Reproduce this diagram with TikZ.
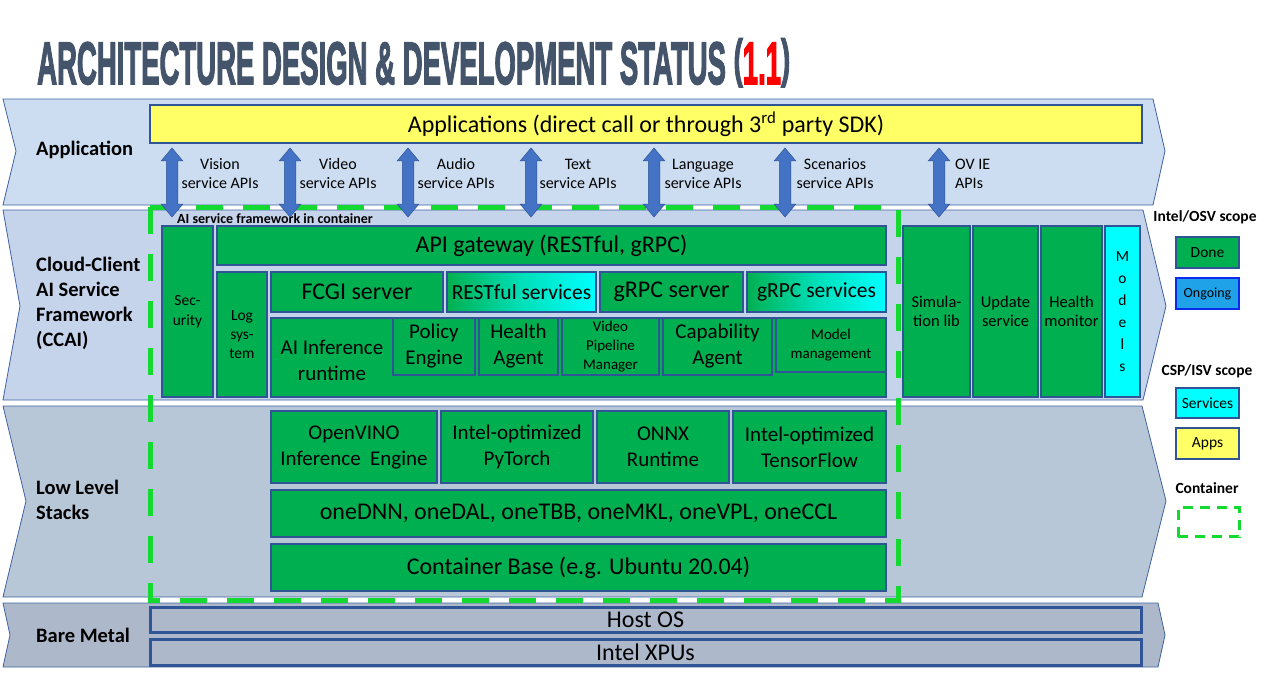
\documentclass[tikz,border=0pt]{standalone}
\usepackage{fontspec}
\setmainfont{Carlito}
\newfontfamily\titlefont{Liberation Sans}[BoldFeatures={FakeBold=3}]
\usetikzlibrary{shapes.arrows}
\definecolor{gr}{HTML}{00B050}
\definecolor{bl}{HTML}{2F5597}
\definecolor{cy}{HTML}{00FFFF}
\definecolor{yl}{HTML}{FFFF66}
\definecolor{bandA}{HTML}{CCDDF1}
\definecolor{bandB}{HTML}{C5D3EB}
\definecolor{bandC}{HTML}{B8C7D7}
\definecolor{bandD}{HTML}{ADB9CA}
\definecolor{bandline}{HTML}{3F62A0}
\definecolor{arr}{HTML}{4472C4}
\definecolor{cont}{HTML}{14D931}
\definecolor{ttl}{HTML}{44546A}
\definecolor{ongo}{HTML}{1FA2E8}
\definecolor{ongob}{HTML}{0A2AF0}
\newcommand\fs[2]{\fontsize{#1}{#2}\selectfont}
\newcommand\tparen[1]{\raisebox{0.13em}{\scalebox{1}[0.87]{#1}}}
\newcommand\bx[7]{\node[#6, minimum width={(#4)-(#2)}, minimum height={(#5)-(#3)}] (#1) at ({((#2)+(#4))/2},{((#3)+(#5))/2}) {#7};}
\begin{document}
\begin{tikzpicture}[x=1pt,y=-1pt,
  band/.style={draw=bandline, line width=0.8},
  box/.style={draw=bl, line width=2.4, inner sep=0, align=center, text=black},
  gbox/.style={box, fill=gr},
  cbox/.style={box, fill=cy},
  ybox/.style={box, fill=yl},
  grad/.style={box, left color=gr, right color=cy, middle color=gr!40!cy},
  mbox/.style={box, fill=bandD, line width=3},
  obox/.style={box, fill=ongo, draw=ongob, line width=2.4},
  big/.style={font=\fs{24}{28}},
  mid/.style={font=\fs{21}{26}},
  sml/.style={font=\fs{15}{19}},
  lay/.style={anchor=west, align=left, inner sep=0, font=\fs{20.5}{25}\bfseries},
  api/.style={align=center, inner sep=0, font=\fs{16}{19}},
  apiarrow/.style={double arrow, rotate=90, draw=bl, line width=0.5, fill=arr,
    minimum height=69, text height=5.5pt, text depth=5.5pt, text width=0pt,
    double arrow head extend=5, double arrow tip angle=80, inner sep=0},
  contline/.style={draw=cont, line width=5, dash pattern=on 27 off 20},
  legcont/.style={draw=cont, line width=3, dash pattern=on 10 off 7},
  lgd/.style={inner sep=0, font=\fs{15.5}{18}\bfseries}]
\useasboundingbox (0,0) rectangle (1269,680);

% title
\node[anchor=base west, text=ttl, inner sep=0] (title) at (37,84)
  {\resizebox{753pt}{1.5\height}{\titlefont\bfseries\fontsize{40}{40}\selectfont ARCHITECTURE DESIGN \& DEVELOPMENT STATUS \tparen{(}\textcolor{red}{1.1}\tparen{)}}};

% bands
\path[band, fill=bandA] (3,99) -- (1153,99) -- (1165,151) -- (1153,205) -- (3,205) -- (16,151) -- cycle;
\path[band, fill=bandB] (3,210) -- (1143,210) -- (1166,306) -- (1143,400) -- (3,400) -- (20,306) -- cycle;
\path[band, fill=bandC] (3,406) -- (1142,406) -- (1166,501) -- (1142,597) -- (3,597) -- (26,501) -- cycle;
\path[band, fill=bandD] (3,603) -- (1158,603) -- (1165,635) -- (1158,667) -- (3,667) -- (10,635) -- cycle;

% layer labels
\node[lay] (lApp) at (36,150) {Application};
\node[lay] (lCC) at (36,303) {Cloud-Client\\AI Service\\Framework\\(CCAI)};
\node[lay] (lLow) at (36,500) {Low Level\\Stacks};
\node[lay] (lBare) at (36,635) {Bare Metal};

% container
\path[contline] (150,207) rectangle (898,600);

% applications
\bx{apps}{150}{105}{1142}{143}{ybox, big}{Applications (direct call or through 3\textsuperscript{rd} party SDK)}

% cloud client framework boxes
\bx{sec}{162}{226}{213}{397}{gbox, font=\fs{15.5}{20}}{Sec-\\urity}
\bx{gw}{217}{226}{886}{265}{gbox, big}{API gateway (RESTful, gRPC)}
\bx{log}{217}{272}{267}{397}{gbox, font=\fs{15.5}{19}}{Log\\sys-\\tem}
\bx{fcgi}{271}{272}{443}{312}{gbox, big}{FCGI server}
\bx{rest}{447}{272}{596}{312}{grad, font=\fs{21.5}{24}}{RESTful services}
\bx{grpcs}{600}{272}{743}{312}{gbox, big}{gRPC server}
\bx{grpcv}{747}{272}{886}{312}{grad, font=\fs{21.5}{24}}{gRPC services}
\bx{airt}{271}{318}{886}{397}{gbox}{}
\node[inner sep=0, align=center, mid] (airtT) at (332,360) {AI Inference\\runtime};
\bx{pol}{393}{318}{475}{375}{gbox, mid}{Policy\\Engine}
\bx{hag}{479}{318}{558}{375}{gbox, mid}{Health\\Agent}
\bx{vpm}{562}{318}{659}{375}{gbox, sml}{Video\\Pipeline\\Manager}
\bx{cap}{663}{318}{772}{375}{gbox, mid}{Capability\\Agent}
\bx{mm}{776}{318}{886}{372}{gbox, sml}{Model\\management}

\bx{sim}{903}{226}{970}{397}{gbox, font=\fs{16.5}{19}}{Simula-\\tion lib}
\bx{upd}{973}{226}{1038}{397}{gbox, font=\fs{16.5}{19}}{Update\\service}
\bx{hmon}{1041}{226}{1102}{397}{gbox, font=\fs{16.5}{19}}{Health\\monitor}
\bx{mod}{1105}{226}{1140}{397}{cbox, font=\fs{15.5}{22}}{M\\o\\d\\e\\l\\s}

\node[anchor=west, inner sep=0, font=\fs{14}{16}\bfseries] (contlbl) at (177,219) {AI service framework in container};

% low level stacks
\bx{ov}{271}{411}{437}{483}{gbox, mid}{OpenVINO\\Inference\ \ Engine}
\bx{pt}{441}{411}{593}{483}{gbox, mid}{Intel-optimized\\PyTorch}
\bx{onnx}{597}{411}{729}{483}{gbox, mid}{ONNX\\Runtime}
\bx{tf}{733}{411}{886}{483}{gbox, mid}{Intel-optimized\\TensorFlow}
\bx{one}{271}{490}{886}{537}{gbox, big}{oneDNN, oneDAL, oneTBB, oneMKL, oneVPL, oneCCL}
\bx{cb}{271}{544}{886}{591}{gbox, big}{Container Base (e.g. Ubuntu 20.04)}

% bare metal
\bx{host}{150}{607}{1141}{632}{mbox, big}{Host OS}
\bx{xpu}{150}{639}{1141}{665}{mbox, big}{Intel XPUs}

% API arrows
\node[apiarrow] (a1) at (172,182.5) {};
\node[apiarrow] (a2) at (290,182.5) {};
\node[apiarrow] (a3) at (408,182.5) {};
\node[apiarrow] (a4) at (531,182.5) {};
\node[apiarrow] (a5) at (654,182.5) {};
\node[apiarrow] (a6) at (785,182.5) {};
\node[apiarrow] (a7) at (939,182.5) {};

\node[api] (t1) at (220,174) {Vision\\service APIs};
\node[api] (t2) at (338,174) {Video\\service APIs};
\node[api] (t3) at (456,174) {Audio\\service APIs};
\node[api] (t4) at (578,174) {Text\\service APIs};
\node[api] (t5) at (703,174) {Language\\service APIs};
\node[api] (t6) at (835,174) {Scenarios\\service APIs};
\node[api, align=left, anchor=west] (t7) at (955,174) {OV IE\\APIs};

% legend
\node[lgd] (lg1) at (1205,217) {Intel/OSV scope};
\bx{done}{1176}{237}{1239}{268}{gbox, font=\fs{15.5}{18}}{Done}
\bx{ongoing}{1176}{278}{1239}{309}{obox, font=\fs{14}{16}}{Ongoing}
\node[lgd] (lg2) at (1207,371) {CSP/ISV scope};
\bx{svc}{1176}{388}{1239}{418}{cbox, font=\fs{15.5}{18}}{Services}
\bx{appl}{1176}{428}{1239}{459}{ybox, font=\fs{15.5}{18}}{Apps}
\node[lgd] (lg3) at (1207,488) {Container};
\node[legcont, inner sep=0, minimum width=61, minimum height=29] (contleg) at (1208.5,522) {};
\end{tikzpicture}
\end{document}
